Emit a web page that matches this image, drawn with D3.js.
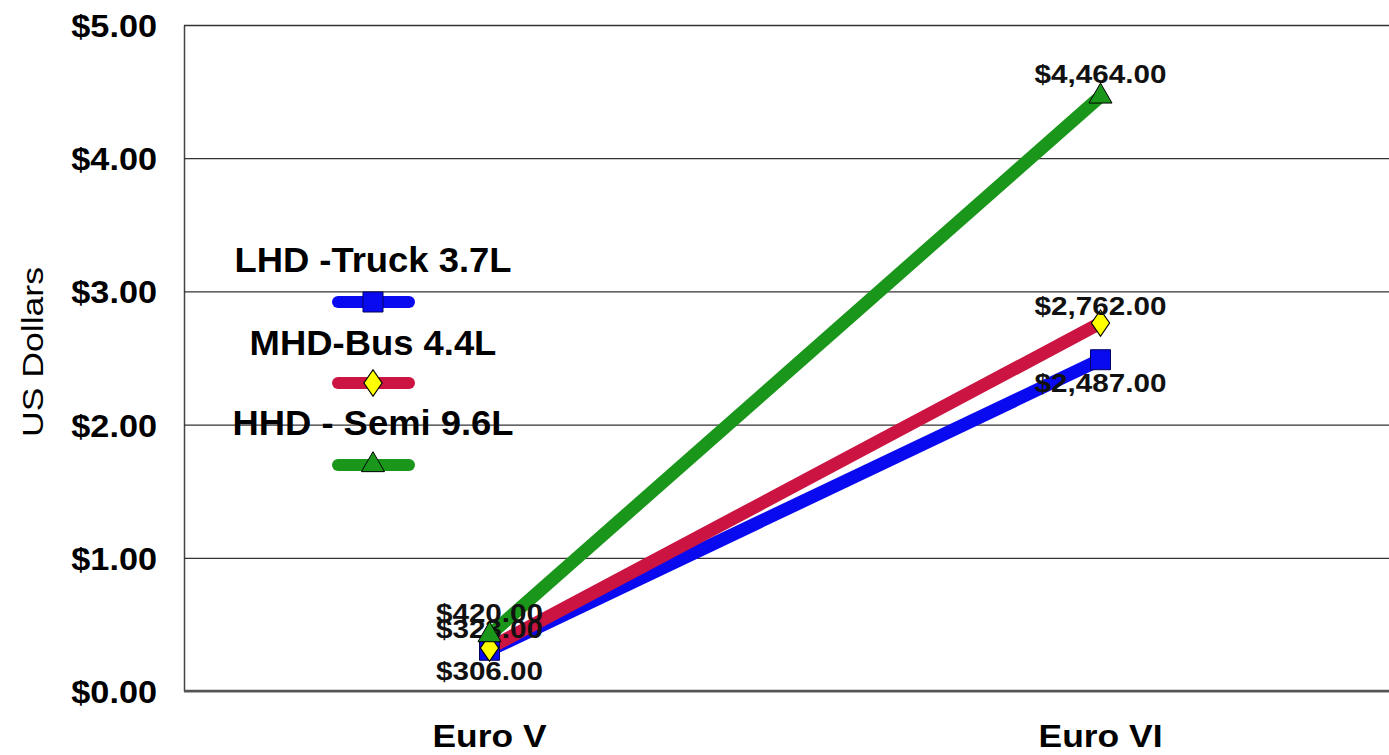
<!DOCTYPE html>
<html>
<head>
<meta charset="utf-8">
<script src="https://cdn.jsdelivr.net/npm/d3@7"></script>
<style>
  body { margin: 0; background: #fff; }
  svg { display: block; font-family: Arial, "Liberation Sans", sans-serif; }
</style>
</head>
<body>
<div id="vis"></div>
<script>
// chart data
var categories = ['Euro V', 'Euro VI'];
var seriesNames = ['LHD -Truck 3.7L', 'MHD-Bus 4.4L', 'HHD - Semi 9.6L'];
var lhdValues = [306, 2487];
var mhdValues = [323, 2762];
var hhdValues = [420, 4464];
var yTicks = [0, 1000, 2000, 3000, 4000, 5000];

var width = 1389;
var height = 755;
var margin = { top: 25, right: 0, bottom: 64, left: 184 };

var lineColors = ['#0a0af0', '#cc1442', '#1a961a'];
var markerFills = ['#0a0af0', '#ffff00', '#1a961a'];
var markerShapes = [d3.symbolSquare, d3.symbolDiamond, d3.symbolTriangle];
var markerSizes = [400, 200, 230];
// label above (-) or below (+) the point, per series and category
var labelOffsets = [[30, 32], [-10, -8], [-13, -13]];

var series = [lhdValues, mhdValues, hhdValues].map(function (vals, i) {
  return {
    name: seriesNames[i],
    index: i,
    points: vals.map(function (v, j) { return { cat: categories[j], value: v, j: j }; })
  };
});

var svg = d3.select('#vis').append('svg')
  .attr('width', width)
  .attr('height', height);

var x = d3.scalePoint()
  .domain(categories)
  .range([margin.left, 1406])
  .padding(0.5);

var y = d3.scaleLinear()
  .domain([0, 5000])
  .range([height - margin.bottom, margin.top]);

// stretch a text a bit wider, the original is drawn wide
function widen(sel, k) {
  sel.each(function () {
    var w = this.getComputedTextLength();
    d3.select(this)
      .attr('textLength', w * k)
      .attr('lengthAdjust', 'spacingAndGlyphs');
  });
}

// y axis with gridlines
var yAxis = d3.axisLeft(y)
  .tickValues(yTicks)
  .tickSizeInner(-(width - margin.left))
  .tickSizeOuter(0)
  .tickPadding(27)
  .tickFormat(function (d) { return '$' + (d / 1000).toFixed(2); });

var gy = svg.append('g')
  .attr('transform', 'translate(' + margin.left + ',0)')
  .call(yAxis);

gy.select('.domain').attr('stroke', '#444').attr('stroke-width', 1.5);
gy.selectAll('.tick line').attr('stroke', '#333').attr('stroke-width', 1.3);
gy.selectAll('.tick text')
  .attr('font-size', 32)
  .attr('font-weight', 'bold')
  .attr('fill', '#000')
  .attr('dy', '0.36em')
  .call(widen, 1.07);

// bottom axis line
svg.append('line')
  .attr('x1', margin.left)
  .attr('x2', width)
  .attr('y1', y(0))
  .attr('y2', y(0))
  .attr('stroke', '#555')
  .attr('stroke-width', 2.5);

// category labels
svg.selectAll('.cat')
  .data(categories)
  .enter().append('text')
  .attr('class', 'cat')
  .attr('x', function (d) { return x(d); })
  .attr('y', 747)
  .attr('text-anchor', 'middle')
  .attr('font-size', 31)
  .attr('font-weight', 'bold')
  .attr('textLength', function (d, i) { return i === 0 ? 114 : 124; })
  .attr('lengthAdjust', 'spacingAndGlyphs')
  .text(function (d) { return d; });

// y axis title
svg.append('text')
  .attr('transform', 'translate(43,352) rotate(-90)')
  .attr('text-anchor', 'middle')
  .attr('font-size', 30)
  .attr('textLength', 170)
  .attr('lengthAdjust', 'spacingAndGlyphs')
  .text('US Dollars');

var line = d3.line()
  .x(function (d) { return x(d.cat); })
  .y(function (d) { return y(d.value); });

svg.selectAll('.series-line')
  .data(series)
  .enter().append('path')
  .attr('class', 'series-line')
  .attr('d', function (d) { return line(d.points); })
  .attr('fill', 'none')
  .attr('stroke', function (d) { return lineColors[d.index]; })
  .attr('stroke-width', 13);

function markerPath(i) {
  return d3.symbol().type(markerShapes[i]).size(markerSizes[i])();
}

var markers = svg.selectAll('.markers')
  .data(series)
  .enter().append('g')
  .attr('class', 'markers');

markers.selectAll('path')
  .data(function (d) { return d.points.map(function (p) { return { s: d.index, p: p }; }); })
  .enter().append('path')
  .attr('d', function (d) { return markerPath(d.s); })
  .attr('transform', function (d) {
    var sy = d.s === 1 ? ' scale(1.2,1)' : '';
    return 'translate(' + x(d.p.cat) + ',' + y(d.p.value) + ')' + sy;
  })
  .attr('fill', function (d) { return markerFills[d.s]; })
  .attr('stroke', function (d) { return d.s === 0 ? '#000060' : '#000'; })
  .attr('stroke-width', 1);

// data labels
var fmt = d3.format('$,.2f');
markers.selectAll('text')
  .data(function (d) { return d.points.map(function (p) { return { s: d.index, p: p }; }); })
  .enter().append('text')
  .attr('x', function (d) { return x(d.p.cat); })
  .attr('y', function (d) { return y(d.p.value) + labelOffsets[d.s][d.p.j]; })
  .attr('text-anchor', 'middle')
  .attr('font-size', 26)
  .attr('font-weight', 'bold')
  .attr('fill', '#111')
  .text(function (d) { return fmt(d.p.value); })
  .call(widen, 1.14);

// legend
var legendTextY = [272, 355, 435];
var legendLineY = [302, 383, 465];
var legend = svg.selectAll('.legend')
  .data(series)
  .enter().append('g')
  .attr('class', 'legend');

legend.append('text')
  .attr('x', 373)
  .attr('y', function (d) { return legendTextY[d.index]; })
  .attr('text-anchor', 'middle')
  .attr('font-size', 35)
  .attr('font-weight', 'bold')
  .text(function (d) { return d.name; })
  .call(widen, 1.04);

legend.append('line')
  .attr('x1', 338)
  .attr('x2', 409)
  .attr('y1', function (d) { return legendLineY[d.index]; })
  .attr('y2', function (d) { return legendLineY[d.index]; })
  .attr('stroke', function (d) { return lineColors[d.index]; })
  .attr('stroke-width', 12)
  .attr('stroke-linecap', 'round');

legend.append('path')
  .attr('d', function (d) { return markerPath(d.index); })
  .attr('transform', function (d) {
    var sy = d.index === 1 ? ' scale(1.2,1)' : '';
    return 'translate(373,' + legendLineY[d.index] + ')' + sy;
  })
  .attr('fill', function (d) { return markerFills[d.index]; })
  .attr('stroke', function (d) { return d.index === 0 ? '#000060' : '#000'; })
  .attr('stroke-width', 1);
</script>
</body>
</html>
